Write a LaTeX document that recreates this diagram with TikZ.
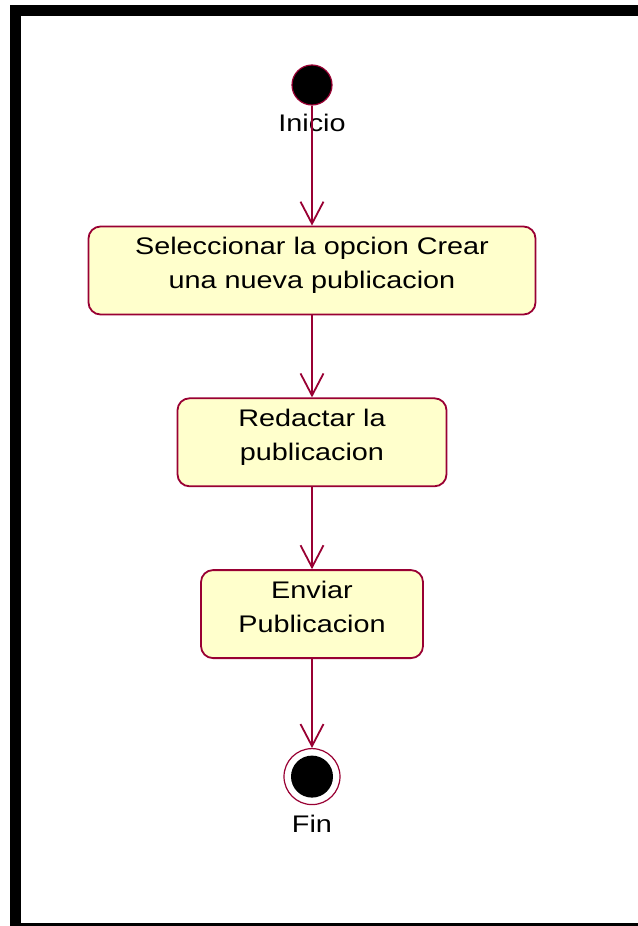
\documentclass[tikz,border=0pt]{standalone}
\usepackage{fontspec}
\setmainfont[FakeStretch=1.2]{Liberation Sans}
\usepackage{tikz}
\usetikzlibrary{positioning, arrows.meta}
\definecolor{umlred}{RGB}{153,0,51}
\definecolor{umlfill}{RGB}{255,255,204}

\begin{document}
\begin{tikzpicture}[
    x=0.5pt, y=-0.5pt,
    node distance=41pt,
    action/.style={rectangle, rounded corners=6pt, draw=umlred, line width=0.9pt, fill=umlfill, align=center, font=\fontsize{12}{17}\selectfont, minimum height=44pt, inner sep=0pt, text depth=7.5pt},
    initial/.style={circle, draw=umlred, line width=0.6pt, fill=black, minimum size=20pt, inner sep=0pt},
    final/.style={circle, draw=umlred, line width=0.6pt, fill=white, minimum size=28pt, inner sep=0pt},
    tag/.style={inner sep=0pt, font=\fontsize{12}{14}\selectfont},
    flow/.style={draw=umlred, line width=0.9pt, -{Straight Barb[length=11pt,width=11.5pt]}}
]
    \useasboundingbox (0,0) rectangle (637,926);

    % marco exterior
    \draw[line width=5.5pt] (660,10.5) -- (15.5,10.5) -- (15.5,928.5) -- (660,928.5);

    % estado inicial
    \node [initial] (inicio) at (312,85) {};
    \node [tag, below=4pt of inicio] (inicioTxt) {Inicio};

    % acciones
    \node [action, minimum width=223.5pt, below=60pt of inicio] (sel) {Seleccionar la opcion Crear\\una nueva publicacion};
    \node [action, minimum width=134.5pt, below=of sel] (red) {Redactar la\\publicacion};
    \node [action, minimum width=111pt, below=of red] (env) {Enviar\\Publicacion};

    % estado final
    \node [final, below=44.5pt of env] (fin) {};
    \node [initial, minimum size=21pt, draw=none] (finDot) at (fin) {};
    \node [tag, below=4.5pt of fin] (finTxt) {Fin};

    % transiciones
    \draw [flow] (inicio) -- (sel);
    \draw [flow] (sel) -- (red);
    \draw [flow] (red) -- (env);
    \draw [flow] (env) -- (fin);

\end{tikzpicture}
\end{document}
